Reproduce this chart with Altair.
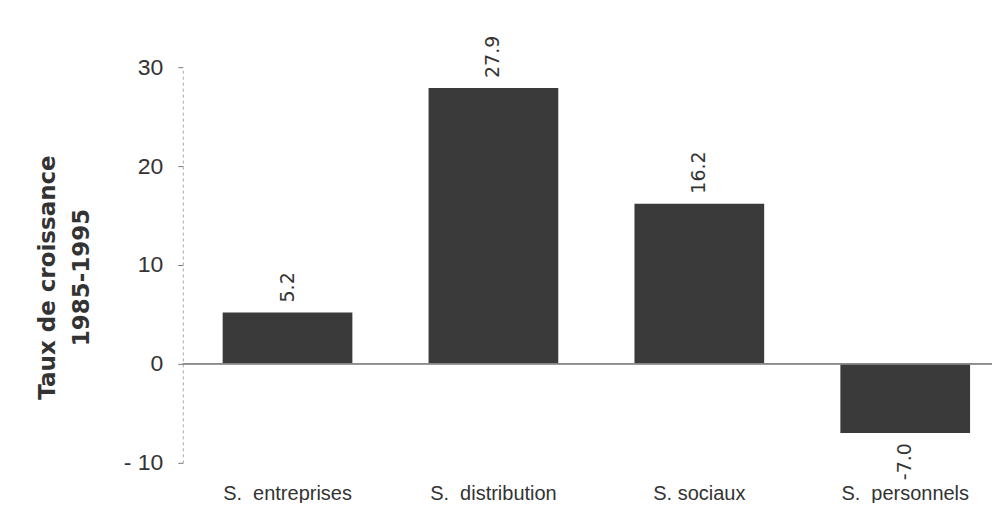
import altair as alt
import pandas as pd

categories = ["S. entreprises", "S. distribution", "S. sociaux", "S. personnels"]
values = [5.2, 27.9, 16.2, -7.0]
value_labels = ["5.2", "27.9", "16.2", "-7.0"]
y_ticks = [-10, 0, 10, 20, 30]

df = pd.DataFrame({"cat": categories, "val": values, "lab": value_labels})

FONT = "Liberation Sans"
WIDE = "DejaVu Sans"
BAR = "#3a3a3a"

x_enc = alt.X(
    "cat:N", sort=categories, title=None,
    scale=alt.Scale(paddingInner=0.37, paddingOuter=0.15, align=0.645),
    axis=alt.Axis(labelAngle=0, domain=False, ticks=False, labelFontSize=20,
                  labelColor="#333", labelPadding=21, labelFont=FONT,
                  labelExpr="datum.label == 'S. sociaux' ? datum.label : replace(datum.label, '. ', '.\u00a0 ')"),
)
y_enc = alt.Y(
    "val:Q",
    scale=alt.Scale(domain=[-10, 30], nice=False, zero=False),
    title=["Taux  de  croissance", "1985-1995"],
    axis=alt.Axis(
        values=y_ticks, grid=False, labelFontSize=23, labelColor="#333",
        labelFont=FONT, labelPadding=15, tickSize=5, tickColor="#777",
        domainColor="#aaa", domainDash=[3, 3],
        labelExpr="datum.value < 0 ? '- ' + abs(datum.value) : datum.label",
        titleFont=WIDE, titleFontSize=23, titleFontWeight="bold", titleColor="#333",
        titleAngle=270, titleX=-135, titleY=210, titleBaseline="middle",
        titleAlign="center", titleLineHeight=34,
    ),
)

bars = alt.Chart(df).mark_bar(color=BAR).encode(x=x_enc, y=y_enc)

zero = alt.Chart(df).mark_rule(color="#888", strokeWidth=1).encode(y=alt.datum(0))

pos_text = alt.Chart(df).transform_filter("datum.val >= 0").mark_text(
    angle=270, align="left", baseline="middle", dx=10, fontSize=19,
    font=WIDE, color="#333"
).encode(x=alt.X("cat:N", sort=categories), y="val:Q", text="lab:N")

neg_text = alt.Chart(df).transform_filter("datum.val < 0").mark_text(
    angle=270, align="right", baseline="middle", dx=-10, fontSize=19,
    font=WIDE, color="#333"
).encode(x=alt.X("cat:N", sort=categories), y="val:Q", text="lab:N")

chart = alt.layer(bars, zero, pos_text, neg_text).properties(
    width=810, height=396,
    autosize=alt.AutoSizeParams(type="none"),
    padding={"left": 175, "top": 59, "right": 5, "bottom": 40},
).configure(background="white").configure_view(stroke=None)

chart.save("out.html", embed_options={"renderer": "svg", "actions": False})
